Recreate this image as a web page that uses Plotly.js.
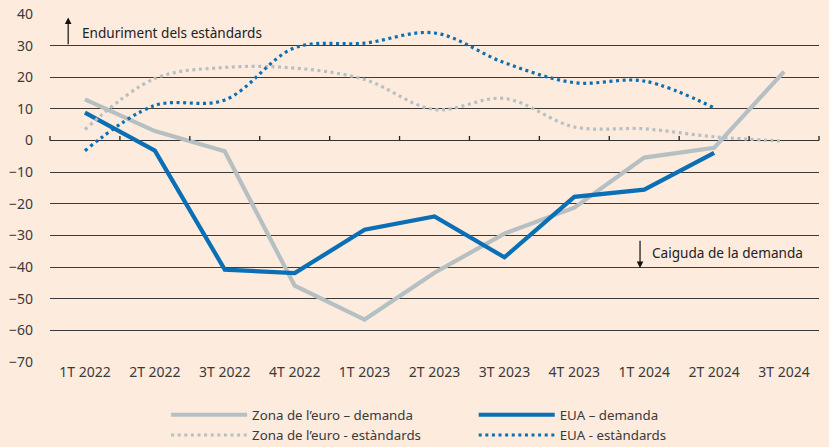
<!DOCTYPE html>
<html>
<head>
<meta charset="utf-8">
<script src="https://cdn.plot.ly/plotly-3.0.1.min.js"></script>
<style>html,body{margin:0;padding:0;background:#FDEBDD;}#chart{width:829px;height:447px;}</style>
</head>
<body>
<div id="chart"></div>
<script>
const categories = ["1T 2022","2T 2022","3T 2022","4T 2022","1T 2023","2T 2023","3T 2023","4T 2023","1T 2024","2T 2024","3T 2024"];
const euroDemanda   = [13, 3, -3.4, -45.9, -56.6, -41.8, -29.4, -21.2, -5.4, -2.3, 21.8];
const euaDemanda    = [8.8, -3.2, -40.8, -41.9, -28.2, -24, -36.9, -17.8, -15.5, -3.9, null];
const euroEstandards= [3.5, 19.6, 23.1, 22.9, 19.3, 9.8, 13.3, 4.3, 3.7, 1.2, -0.2];
const euaEstandards = [-3.2, 11.1, 12.8, 29.3, 30.8, 34, 24.6, 18.3, 18.8, 10.3, null];
const seriesNames = ["Zona de l\u2019euro \u2013 demanda","EUA \u2013 demanda","Zona de l\u2019euro - estàndards","EUA - estàndards"];
const yTicks = [-70,-60,-50,-40,-30,-20,-10,0,10,20,30,40];

const BG = "#FDEBDD";
const GRAY = "#B6C0C3";
const BLUE = "#0A6FB5";
const FONT = "Noto Sans, Open Sans, sans-serif";
const TXT = "#3a3a3a";

const traces = [
  {x: categories, y: euroDemanda, name: seriesNames[0], type: "scatter", mode: "lines", legend: "legend",
   line: {color: GRAY, width: 4.2}},
  {x: categories, y: euaDemanda, name: seriesNames[1], type: "scatter", mode: "lines", legend: "legend2",
   line: {color: BLUE, width: 4.2}},
  {x: categories, y: euroEstandards, name: seriesNames[2], type: "scatter", mode: "lines", legend: "legend",
   line: {color: GRAY, width: 3.2, dash: "3px,3.6px", shape: "spline", smoothing: 1}},
  {x: categories, y: euaEstandards, name: seriesNames[3], type: "scatter", mode: "lines", legend: "legend2",
   line: {color: BLUE, width: 3.2, dash: "3px,3.6px", shape: "spline", smoothing: 1}}
];

const annotations = [
  {x: -0.24, y: 38.9, ax: -0.24, ay: 30, xref: "x", yref: "y", axref: "x", ayref: "y",
   text: "", showarrow: true, arrowhead: 2, arrowsize: 1.1, arrowwidth: 1.2, arrowcolor: "#111"},
  {x: -0.07, y: 34, xref: "x", yref: "y", text: "Enduriment dels estàndards",
   showarrow: false, xanchor: "left", yanchor: "middle",
   font: {family: FONT, size: 13.6, color: "#222"}},
  {x: 7.94, y: -40.3, ax: 7.94, ay: -31.2, xref: "x", yref: "y", axref: "x", ayref: "y",
   text: "", showarrow: true, arrowhead: 2, arrowsize: 1.1, arrowwidth: 1.2, arrowcolor: "#111"},
  {x: 8.08, y: -35.4, xref: "x", yref: "y", text: "Caiguda de la demanda",
   showarrow: false, xanchor: "left", yanchor: "middle",
   font: {family: FONT, size: 13.6, color: "#222"}}
];
// axis tick marks on the zero line, at the boundaries between categories (drawn as headless arrows)
for (let i = 0; i <= categories.length; i++) {
  annotations.push({x: i - 0.5, y: 0, xref: "x", yref: "y", ax: 0, ay: -6,
    text: "", showarrow: true, arrowhead: 0, arrowwidth: 1.3, arrowcolor: "#222",
    standoff: 0, startstandoff: 0});
}

const legendCommon = {orientation: "v", yanchor: "top", xanchor: "left", bgcolor: "rgba(0,0,0,0)",
  font: {family: FONT, size: 13.3, color: TXT}, traceorder: "normal", tracegroupgap: 0,
  itemwidth: 76, borderwidth: 0};

const layout = {
  width: 829, height: 447,
  paper_bgcolor: BG, plot_bgcolor: BG,
  margin: {l: 50, r: 10, t: 14, b: 85, autoexpand: false},
  font: {family: FONT, size: 14, color: TXT},
  showlegend: true,
  legend: Object.assign({}, legendCommon, {x: 0.151, y: -0.108}),
  legend2: Object.assign({}, legendCommon, {x: 0.551, y: -0.108}),
  xaxis: {type: "category", categoryarray: categories, categoryorder: "array",
          range: [-0.5, 10.5], showgrid: false, zeroline: false, showline: false,
          ticks: "", tickfont: {family: FONT, size: 14, color: TXT}, fixedrange: true},
  yaxis: {range: [-70, 40], tickvals: yTicks, showgrid: true, gridcolor: "#3f3a37", gridwidth: 1,
          zeroline: true, zerolinecolor: "#333", zerolinewidth: 1.2,
          showline: false, ticks: "", ticklabelstandoff: 16,
          tickfont: {family: FONT, size: 14, color: TXT}, fixedrange: true},
  annotations: annotations
};

Plotly.newPlot("chart", traces, layout, {staticPlot: true, displayModeBar: false});
</script>
</body>
</html>
